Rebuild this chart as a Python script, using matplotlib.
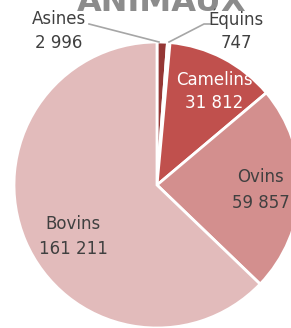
import matplotlib.pyplot as plt

# Données : effectifs par espèce
categories = ['Asines', 'Équins', 'Camelins', 'Ovins', 'Bovins']
effectifs = [2996, 747, 31812, 59857, 161211]
couleurs = ['#953735', '#E6B9B8', '#C0504D', '#D38F8E', '#E2BBBB']

W, H = 291, 328
cx, cy, r = 157, 185, 143  # centre et rayon du camembert en pixels

fig = plt.figure(figsize=(W / 100, H / 100), dpi=100)
ax = fig.add_axes([0, 0, 1, 1])
ax.pie(effectifs, colors=couleurs, startangle=90, counterclock=False,
       radius=1, wedgeprops=dict(edgecolor='white', linewidth=2))
ax.set_aspect('auto')
ax.set_xlim(-cx / r, (W - cx) / r)
ax.set_ylim(-(H - cy) / r, cy / r)
ax.axis('off')


def px(x, y):
    # pixel (origine en haut à gauche) -> fraction de figure
    return x / W, 1 - y / H


def fmt(v):
    return f"{v:,}".replace(',', ' ')


# titre (coupé en haut comme sur l'original)
fig.text(*px(162, 11), 'ANIMAUX', ha='center', va='baseline',
         fontsize=23, fontweight='bold', color='#8C8C8C')

# positions des étiquettes (pixels) : nom puis valeur
pos = {
    'Asines': (59, 19, 43),
    'Équins': (236, 19, 43),
    'Camelins': (214, 80, 103),
    'Ovins': (261, 177, 203),
    'Bovins': (73, 224, 249),
}
for cat, val in zip(categories, effectifs):
    x, y1, y2 = pos[cat]
    c = 'white' if cat == 'Camelins' else '#404040'
    fig.text(*px(x, y1), cat, ha='center', va='center', fontsize=12, color=c)
    fig.text(*px(x, y2), fmt(val), ha='center', va='center', fontsize=12, color=c)

# lignes de rappel
for xs, ys in [([89, 159], [24, 42]), ([210, 204, 169], [24, 24, 42])]:
    fx = [x / W for x in xs]
    fy = [1 - y / H for y in ys]
    fig.add_artist(plt.Line2D(fx, fy, color='#A6A6A6', linewidth=1.2))

plt.savefig('out.png', dpi=100)
